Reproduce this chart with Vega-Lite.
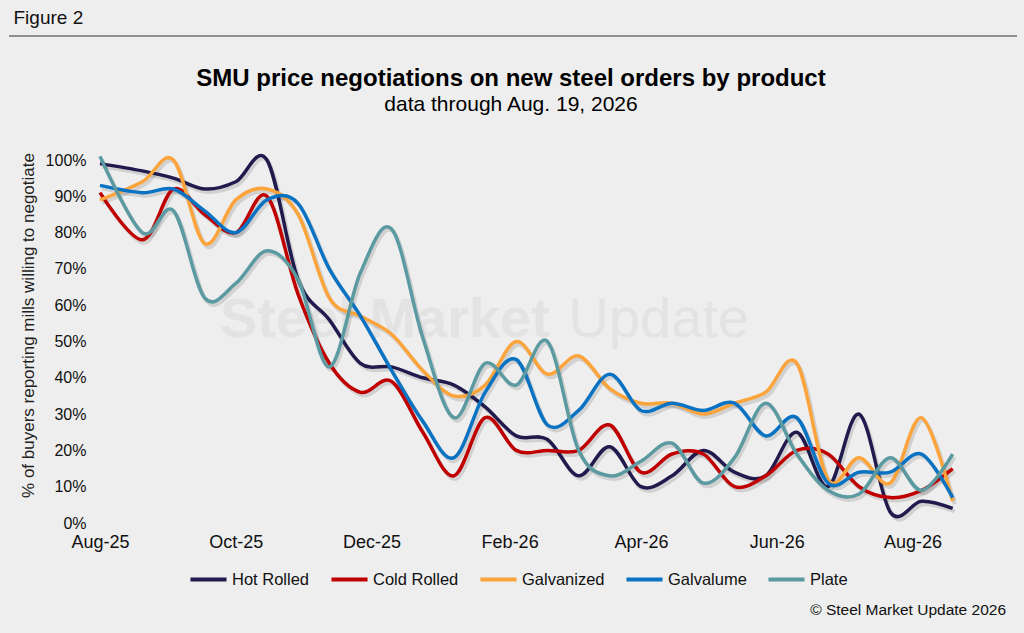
{
  "$schema": "https://vega.github.io/schema/vega-lite/v6.json",
  "background": "#eeeeee",
  "padding": {"left": 8, "top": 8, "right": 8, "bottom": 14},
  "config": {
    "view": {"stroke": null},
    "font": "Liberation Sans",
    "title": {"font": "Liberation Sans", "color": "#000"},
    "axisY": {
      "labelFontSize": 16,
      "labelColor": "#111",
      "labelPadding": 14,
      "labelFlush": false,
      "labelOverlap": false,
      "grid": false,
      "domain": false,
      "ticks": false,
      "titleFontSize": 17,
      "titleFontWeight": "normal",
      "titleColor": "#222",
      "titlePadding": 8
    },
    "axisX": {
      "labelFontSize": 18,
      "labelColor": "#111",
      "labelPadding": 10,
      "labelFlush": false,
      "labelOverlap": false,
      "grid": false,
      "domain": false,
      "ticks": false
    }
  },
  "spacing": 10,
  "vconcat": [
    {
      "width": 1008,
      "height": 20,
      "title": {"text": "Figure 2", "anchor": "start", "fontSize": 19, "fontWeight": "normal", "color": "#111", "offset": 8, "dx": 5},
      "data": {"values": [{}]},
      "mark": {"type": "rule", "color": "#333", "strokeWidth": 1},
      "encoding": {
        "y": {"datum": 1, "type": "quantitative", "scale": {"domain": [0, 1]}, "axis": null}
      }
    },
    {
      "spacing": 9,
      "hconcat": [
        {"width": 1, "height": 1, "data": {"values": []}, "mark": "point"},
        {
          "width": 866,
          "height": 363,
          "title": {
            "text": "SMU price negotiations on new steel orders by product",
            "subtitle": "data through Aug. 19, 2026",
            "anchor": "middle",
            "frame": "group",
            "dx": -22,
            "fontSize": 24,
            "fontWeight": "bold",
            "subtitleFontSize": 21,
            "subtitleColor": "#000",
            "subtitlePadding": 3,
            "offset": 34
          },
          "data": {
            "values": [
              {"date": "2025-08-01", "product": "Hot Rolled", "pct": 99},
              {"date": "2025-08-20", "product": "Hot Rolled", "pct": 97},
              {"date": "2025-09-03", "product": "Hot Rolled", "pct": 95},
              {"date": "2025-09-17", "product": "Hot Rolled", "pct": 92},
              {"date": "2025-10-01", "product": "Hot Rolled", "pct": 94},
              {"date": "2025-10-15", "product": "Hot Rolled", "pct": 100},
              {"date": "2025-10-29", "product": "Hot Rolled", "pct": 67},
              {"date": "2025-11-12", "product": "Hot Rolled", "pct": 56},
              {"date": "2025-11-26", "product": "Hot Rolled", "pct": 44},
              {"date": "2025-12-10", "product": "Hot Rolled", "pct": 43},
              {"date": "2025-12-24", "product": "Hot Rolled", "pct": 40},
              {"date": "2026-01-07", "product": "Hot Rolled", "pct": 38},
              {"date": "2026-01-21", "product": "Hot Rolled", "pct": 32},
              {"date": "2026-02-04", "product": "Hot Rolled", "pct": 24},
              {"date": "2026-02-18", "product": "Hot Rolled", "pct": 23},
              {"date": "2026-03-04", "product": "Hot Rolled", "pct": 13},
              {"date": "2026-03-18", "product": "Hot Rolled", "pct": 21},
              {"date": "2026-04-01", "product": "Hot Rolled", "pct": 10},
              {"date": "2026-04-15", "product": "Hot Rolled", "pct": 13},
              {"date": "2026-04-29", "product": "Hot Rolled", "pct": 20},
              {"date": "2026-05-13", "product": "Hot Rolled", "pct": 14},
              {"date": "2026-05-27", "product": "Hot Rolled", "pct": 13},
              {"date": "2026-06-10", "product": "Hot Rolled", "pct": 25},
              {"date": "2026-06-24", "product": "Hot Rolled", "pct": 10},
              {"date": "2026-07-08", "product": "Hot Rolled", "pct": 30},
              {"date": "2026-07-22", "product": "Hot Rolled", "pct": 3},
              {"date": "2026-08-05", "product": "Hot Rolled", "pct": 6},
              {"date": "2026-08-19", "product": "Hot Rolled", "pct": 4},
              {"date": "2025-08-01", "product": "Cold Rolled", "pct": 91},
              {"date": "2025-08-20", "product": "Cold Rolled", "pct": 78},
              {"date": "2025-09-03", "product": "Cold Rolled", "pct": 92},
              {"date": "2025-09-17", "product": "Cold Rolled", "pct": 85},
              {"date": "2025-10-01", "product": "Cold Rolled", "pct": 80},
              {"date": "2025-10-15", "product": "Cold Rolled", "pct": 90},
              {"date": "2025-10-29", "product": "Cold Rolled", "pct": 63},
              {"date": "2025-11-12", "product": "Cold Rolled", "pct": 44},
              {"date": "2025-11-26", "product": "Cold Rolled", "pct": 36},
              {"date": "2025-12-10", "product": "Cold Rolled", "pct": 39},
              {"date": "2025-12-24", "product": "Cold Rolled", "pct": 25},
              {"date": "2026-01-07", "product": "Cold Rolled", "pct": 13},
              {"date": "2026-01-21", "product": "Cold Rolled", "pct": 29},
              {"date": "2026-02-04", "product": "Cold Rolled", "pct": 20},
              {"date": "2026-02-18", "product": "Cold Rolled", "pct": 20},
              {"date": "2026-03-04", "product": "Cold Rolled", "pct": 20},
              {"date": "2026-03-18", "product": "Cold Rolled", "pct": 27},
              {"date": "2026-04-01", "product": "Cold Rolled", "pct": 14},
              {"date": "2026-04-15", "product": "Cold Rolled", "pct": 19},
              {"date": "2026-04-29", "product": "Cold Rolled", "pct": 19},
              {"date": "2026-05-13", "product": "Cold Rolled", "pct": 10},
              {"date": "2026-05-27", "product": "Cold Rolled", "pct": 13},
              {"date": "2026-06-10", "product": "Cold Rolled", "pct": 20},
              {"date": "2026-06-24", "product": "Cold Rolled", "pct": 19},
              {"date": "2026-07-08", "product": "Cold Rolled", "pct": 10},
              {"date": "2026-07-22", "product": "Cold Rolled", "pct": 7},
              {"date": "2026-08-05", "product": "Cold Rolled", "pct": 9},
              {"date": "2026-08-19", "product": "Cold Rolled", "pct": 15},
              {"date": "2025-08-01", "product": "Galvanized", "pct": 89},
              {"date": "2025-08-20", "product": "Galvanized", "pct": 94},
              {"date": "2025-09-03", "product": "Galvanized", "pct": 100},
              {"date": "2025-09-17", "product": "Galvanized", "pct": 77},
              {"date": "2025-10-01", "product": "Galvanized", "pct": 89},
              {"date": "2025-10-15", "product": "Galvanized", "pct": 92},
              {"date": "2025-10-29", "product": "Galvanized", "pct": 85},
              {"date": "2025-11-12", "product": "Galvanized", "pct": 62},
              {"date": "2025-11-26", "product": "Galvanized", "pct": 57},
              {"date": "2025-12-10", "product": "Galvanized", "pct": 52},
              {"date": "2025-12-24", "product": "Galvanized", "pct": 42},
              {"date": "2026-01-07", "product": "Galvanized", "pct": 35},
              {"date": "2026-01-21", "product": "Galvanized", "pct": 38},
              {"date": "2026-02-04", "product": "Galvanized", "pct": 50},
              {"date": "2026-02-18", "product": "Galvanized", "pct": 41},
              {"date": "2026-03-04", "product": "Galvanized", "pct": 46},
              {"date": "2026-03-18", "product": "Galvanized", "pct": 37},
              {"date": "2026-04-01", "product": "Galvanized", "pct": 33},
              {"date": "2026-04-15", "product": "Galvanized", "pct": 33},
              {"date": "2026-04-29", "product": "Galvanized", "pct": 30},
              {"date": "2026-05-13", "product": "Galvanized", "pct": 33},
              {"date": "2026-05-27", "product": "Galvanized", "pct": 36},
              {"date": "2026-06-10", "product": "Galvanized", "pct": 44},
              {"date": "2026-06-24", "product": "Galvanized", "pct": 12},
              {"date": "2026-07-08", "product": "Galvanized", "pct": 18},
              {"date": "2026-07-22", "product": "Galvanized", "pct": 11},
              {"date": "2026-08-05", "product": "Galvanized", "pct": 29},
              {"date": "2026-08-19", "product": "Galvanized", "pct": 6},
              {"date": "2025-08-01", "product": "Galvalume", "pct": 93},
              {"date": "2025-08-20", "product": "Galvalume", "pct": 91},
              {"date": "2025-09-03", "product": "Galvalume", "pct": 92},
              {"date": "2025-09-17", "product": "Galvalume", "pct": 86},
              {"date": "2025-10-01", "product": "Galvalume", "pct": 80},
              {"date": "2025-10-15", "product": "Galvalume", "pct": 89},
              {"date": "2025-10-29", "product": "Galvalume", "pct": 88},
              {"date": "2025-11-12", "product": "Galvalume", "pct": 70},
              {"date": "2025-11-26", "product": "Galvalume", "pct": 57},
              {"date": "2025-12-10", "product": "Galvalume", "pct": 42},
              {"date": "2025-12-24", "product": "Galvalume", "pct": 28},
              {"date": "2026-01-07", "product": "Galvalume", "pct": 18},
              {"date": "2026-01-21", "product": "Galvalume", "pct": 36},
              {"date": "2026-02-04", "product": "Galvalume", "pct": 45},
              {"date": "2026-02-18", "product": "Galvalume", "pct": 27},
              {"date": "2026-03-04", "product": "Galvalume", "pct": 31},
              {"date": "2026-03-18", "product": "Galvalume", "pct": 41},
              {"date": "2026-04-01", "product": "Galvalume", "pct": 31},
              {"date": "2026-04-15", "product": "Galvalume", "pct": 33},
              {"date": "2026-04-29", "product": "Galvalume", "pct": 31},
              {"date": "2026-05-13", "product": "Galvalume", "pct": 33},
              {"date": "2026-05-27", "product": "Galvalume", "pct": 24},
              {"date": "2026-06-10", "product": "Galvalume", "pct": 29},
              {"date": "2026-06-24", "product": "Galvalume", "pct": 11},
              {"date": "2026-07-08", "product": "Galvalume", "pct": 14},
              {"date": "2026-07-22", "product": "Galvalume", "pct": 14},
              {"date": "2026-08-05", "product": "Galvalume", "pct": 19},
              {"date": "2026-08-19", "product": "Galvalume", "pct": 7},
              {"date": "2025-08-01", "product": "Plate", "pct": 101},
              {"date": "2025-08-20", "product": "Plate", "pct": 80},
              {"date": "2025-09-03", "product": "Plate", "pct": 86},
              {"date": "2025-09-17", "product": "Plate", "pct": 62},
              {"date": "2025-10-01", "product": "Plate", "pct": 66},
              {"date": "2025-10-15", "product": "Plate", "pct": 75},
              {"date": "2025-10-29", "product": "Plate", "pct": 67},
              {"date": "2025-11-12", "product": "Plate", "pct": 43},
              {"date": "2025-11-26", "product": "Plate", "pct": 69},
              {"date": "2025-12-10", "product": "Plate", "pct": 81},
              {"date": "2025-12-24", "product": "Plate", "pct": 51},
              {"date": "2026-01-07", "product": "Plate", "pct": 29},
              {"date": "2026-01-21", "product": "Plate", "pct": 44},
              {"date": "2026-02-04", "product": "Plate", "pct": 38},
              {"date": "2026-02-18", "product": "Plate", "pct": 50},
              {"date": "2026-03-04", "product": "Plate", "pct": 20},
              {"date": "2026-03-18", "product": "Plate", "pct": 13},
              {"date": "2026-04-01", "product": "Plate", "pct": 17},
              {"date": "2026-04-15", "product": "Plate", "pct": 22},
              {"date": "2026-04-29", "product": "Plate", "pct": 11},
              {"date": "2026-05-13", "product": "Plate", "pct": 18},
              {"date": "2026-05-27", "product": "Plate", "pct": 33},
              {"date": "2026-06-10", "product": "Plate", "pct": 19},
              {"date": "2026-06-24", "product": "Plate", "pct": 9},
              {"date": "2026-07-08", "product": "Plate", "pct": 8},
              {"date": "2026-07-22", "product": "Plate", "pct": 18},
              {"date": "2026-08-05", "product": "Plate", "pct": 9},
              {"date": "2026-08-19", "product": "Plate", "pct": 19}
            ]
          },
          "layer": [
            {
              "data": {"values": [{}]},
              "mark": {"type": "text", "text": "Steel Market", "fontSize": 56, "fontWeight": "bold", "color": "#e3e3e3"},
              "encoding": {
                "x": {
                  "datum": {"year": 2025, "month": 12, "date": 7, "utc": true},
                  "type": "temporal",
                  "title": null,
                  "axis": {
                    "values": [
                      {"year": 2025, "month": 8, "date": 1, "utc": true},
                      {"year": 2025, "month": 10, "date": 1, "utc": true},
                      {"year": 2025, "month": 12, "date": 1, "utc": true},
                      {"year": 2026, "month": 2, "date": 1, "utc": true},
                      {"year": 2026, "month": 4, "date": 1, "utc": true},
                      {"year": 2026, "month": 6, "date": 1, "utc": true},
                      {"year": 2026, "month": 8, "date": 1, "utc": true}
                    ],
                    "format": "%b-%y"
                  }
                },
                "y": {
                  "datum": 56,
                  "type": "quantitative",
                  "title": "% of buyers reporting mills willing to negotiate",
                  "axis": {
                    "values": [0, 10, 20, 30, 40, 50, 60, 70, 80, 90, 100],
                    "labelExpr": "datum.value + '%'",
                    "titleY": 165
                  }
                }
              }
            },
            {
              "data": {"values": [{}]},
              "mark": {"type": "text", "text": "Update", "fontSize": 56, "fontWeight": "normal", "color": "#e3e3e3"},
              "encoding": {
                "x": {
                  "datum": {"year": 2026, "month": 4, "date": 9, "utc": true},
                  "type": "temporal",
                  "title": null,
                  "axis": {
                    "values": [
                      {"year": 2025, "month": 8, "date": 1, "utc": true},
                      {"year": 2025, "month": 10, "date": 1, "utc": true},
                      {"year": 2025, "month": 12, "date": 1, "utc": true},
                      {"year": 2026, "month": 2, "date": 1, "utc": true},
                      {"year": 2026, "month": 4, "date": 1, "utc": true},
                      {"year": 2026, "month": 6, "date": 1, "utc": true},
                      {"year": 2026, "month": 8, "date": 1, "utc": true}
                    ],
                    "format": "%b-%y"
                  }
                },
                "y": {
                  "datum": 56,
                  "type": "quantitative",
                  "title": "% of buyers reporting mills willing to negotiate",
                  "axis": {
                    "values": [0, 10, 20, 30, 40, 50, 60, 70, 80, 90, 100],
                    "labelExpr": "datum.value + '%'",
                    "titleY": 165
                  }
                }
              }
            },
            {
              "mark": {"type": "line", "interpolate": "cardinal", "strokeWidth": 4, "color": "#000", "opacity": 0.12, "xOffset": 2, "yOffset": 3},
              "encoding": {
                "x": {
                  "field": "date",
                  "type": "temporal",
                  "title": null,
                  "axis": {
                    "values": [
                      {"year": 2025, "month": 8, "date": 1, "utc": true},
                      {"year": 2025, "month": 10, "date": 1, "utc": true},
                      {"year": 2025, "month": 12, "date": 1, "utc": true},
                      {"year": 2026, "month": 2, "date": 1, "utc": true},
                      {"year": 2026, "month": 4, "date": 1, "utc": true},
                      {"year": 2026, "month": 6, "date": 1, "utc": true},
                      {"year": 2026, "month": 8, "date": 1, "utc": true}
                    ],
                    "format": "%b-%y"
                  }
                },
                "y": {
                  "field": "pct",
                  "type": "quantitative",
                  "title": "% of buyers reporting mills willing to negotiate",
                  "axis": {
                    "values": [0, 10, 20, 30, 40, 50, 60, 70, 80, 90, 100],
                    "labelExpr": "datum.value + '%'",
                    "titleY": 165
                  }
                },
                "detail": {"field": "product"}
              }
            },
            {
              "mark": {"type": "line", "interpolate": "cardinal", "strokeWidth": 3.5},
              "encoding": {
                "x": {
                  "field": "date",
                  "type": "temporal",
                  "title": null,
                  "scale": {"type": "utc", "domain": [{"year": 2025, "month": 8, "date": 1, "utc": true}, {"year": 2026, "month": 8, "date": 25, "utc": true}]},
                  "axis": {
                    "values": [
                      {"year": 2025, "month": 8, "date": 1, "utc": true},
                      {"year": 2025, "month": 10, "date": 1, "utc": true},
                      {"year": 2025, "month": 12, "date": 1, "utc": true},
                      {"year": 2026, "month": 2, "date": 1, "utc": true},
                      {"year": 2026, "month": 4, "date": 1, "utc": true},
                      {"year": 2026, "month": 6, "date": 1, "utc": true},
                      {"year": 2026, "month": 8, "date": 1, "utc": true}
                    ],
                    "format": "%b-%y"
                  }
                },
                "y": {
                  "field": "pct",
                  "type": "quantitative",
                  "title": "% of buyers reporting mills willing to negotiate",
                  "scale": {"domain": [0, 100], "nice": false},
                  "axis": {
                    "values": [0, 10, 20, 30, 40, 50, 60, 70, 80, 90, 100],
                    "labelExpr": "datum.value + '%'",
                    "titleY": 165
                  }
                },
                "color": {
                  "field": "product",
                  "type": "nominal",
                  "scale": {
                    "domain": ["Hot Rolled", "Cold Rolled", "Galvanized", "Galvalume", "Plate"],
                    "range": ["#211a4d", "#c00000", "#fca43c", "#0a72c2", "#5a9aa0"]
                  },
                  "legend": {
                    "title": null,
                    "orient": "none",
                    "direction": "horizontal",
                    "legendX": 179,
                    "legendY": 523,
                    "padding": 0,
                    "gridAlign": "none",
                    "symbolType": "stroke",
                    "symbolStrokeWidth": 4,
                    "symbolSize": 1300,
                    "labelFontSize": 16.5,
                    "labelColor": "#111",
                    "labelOffset": 3,
                    "columnPadding": 13
                  }
                }
              }
            }
          ]
        }
      ]
    },
    {
      "width": 997,
      "height": 42,
      "title": {"text": "© Steel Market Update 2026", "orient": "bottom", "anchor": "end", "fontSize": 15.5, "fontWeight": "normal", "color": "#111", "offset": 0},
      "data": {"values": []},
      "mark": "point"
    }
  ]
}
